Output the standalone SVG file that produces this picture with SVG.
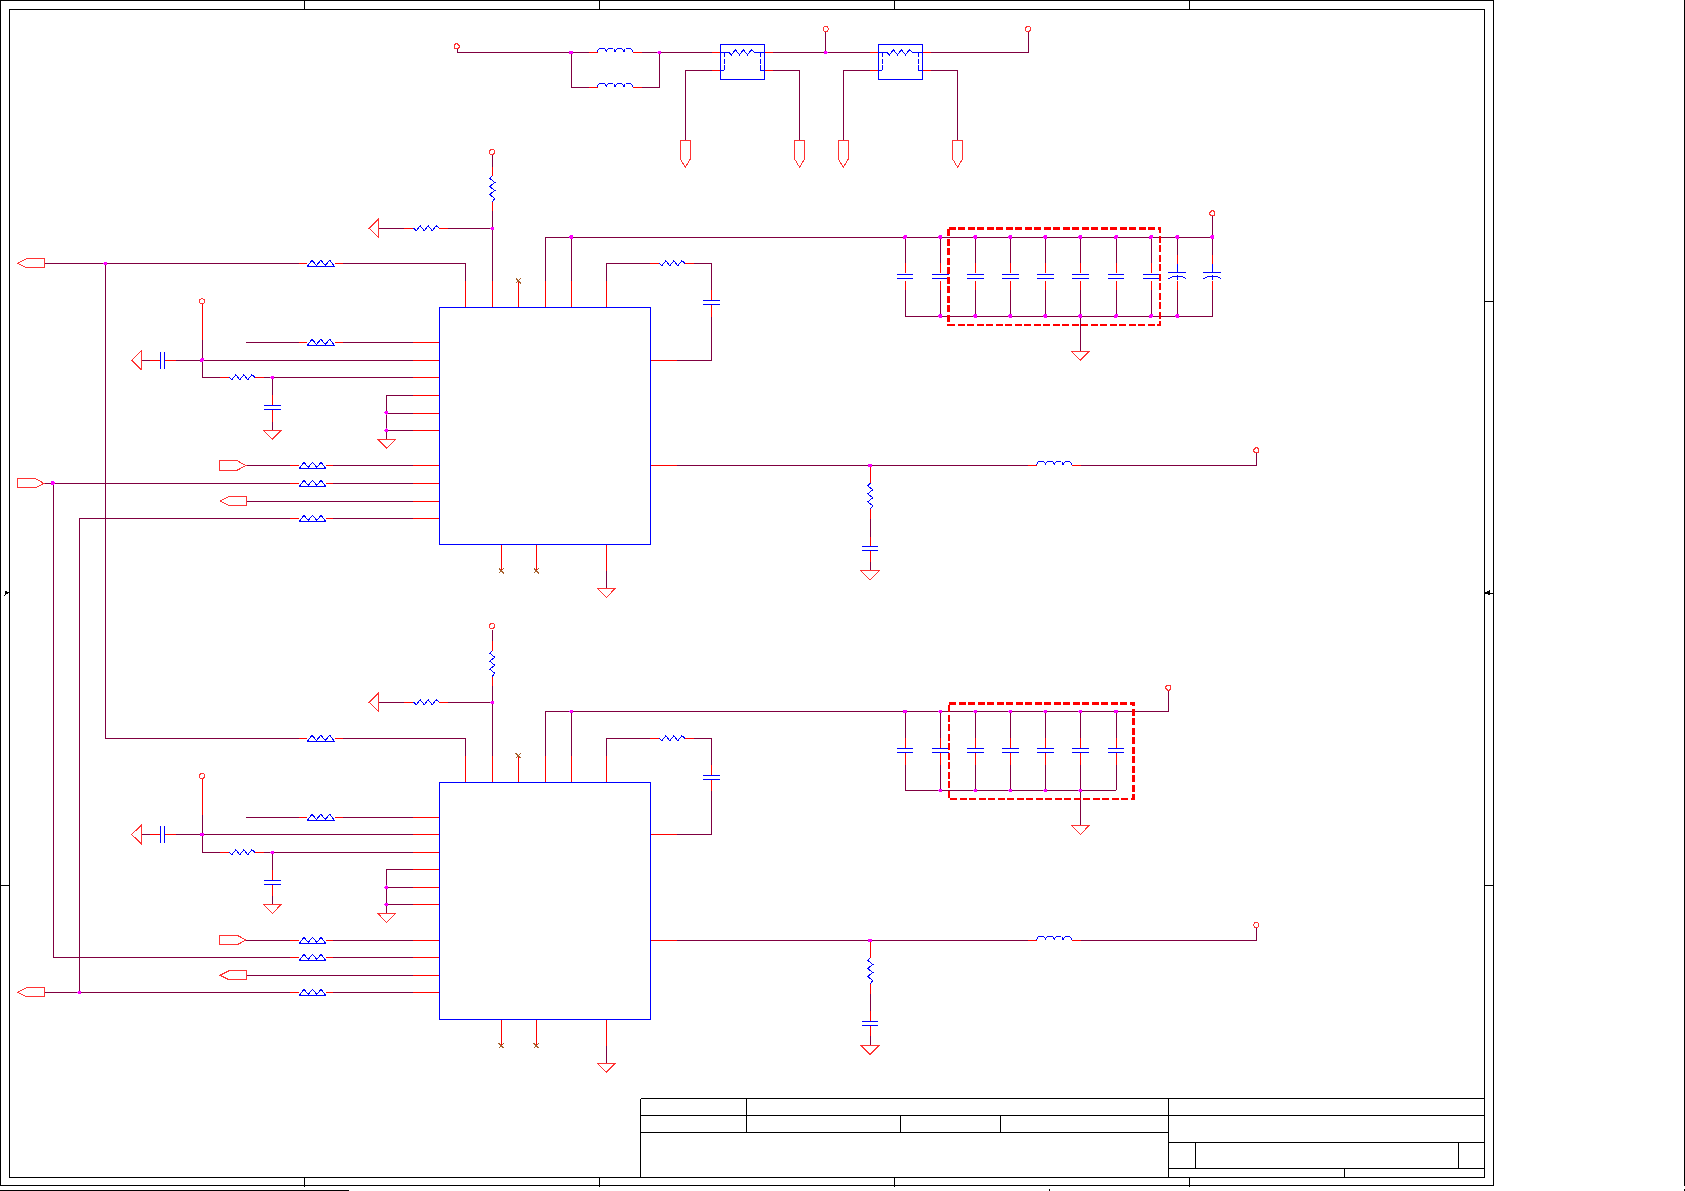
<svg xmlns="http://www.w3.org/2000/svg" width="1685" height="1191" viewBox="0 0 1685 1191" shape-rendering="crispEdges">
<style>
path,rect,circle,polygon{fill:none}
.k{stroke:#000;stroke-width:1}
.w{stroke:#800040;stroke-width:1}
.r{stroke:#f00;stroke-width:1}
.b{stroke:#00f;stroke-width:1}
.o{stroke:#f33;stroke-width:1}
.x{stroke:#a5602c;stroke-width:1}
.d{stroke:#f00;stroke-width:2.6;stroke-dasharray:7 2.5}
.j{fill:#f0f;stroke:none}
.t{fill:#000;stroke:none}
</style>
<defs>
<path id="res" class="b" d="M0,0 L2.5,2.5 L6.5,-2.5 L10.5,2.5 L14.5,-2.5 L18.5,2.5 L22.5,-2.5 L25.7,0"/>
<path id="bead" class="b" d="M0,3.3 L4.5,-3 L9.2,2 L13.6,-3 L18,2 L22.5,-3 L27.4,3.3 Z"/>
<path id="bead2" class="b" d="M0,3 L4.3,-3 L8.8,2 L13,-3 L17.2,2 L21.7,-3 L26,3 Z"/>
<path id="ind" class="b" d="M0,0 a4.4,4.2 0 0 1 8.8,0 a4.4,4.2 0 0 1 8.8,0 a4.4,4.2 0 0 1 8.8,0 a4.4,4.2 0 0 1 8.8,0"/>
<path id="cap" class="b" d="M-8.3,-2.2 H8.3 M-8.3,2.2 H8.3"/>
<path id="capx" class="b" d="M-2.2,-8.5 V8.5 M2.2,-8.5 V8.5"/>
<path id="pcap" class="b" d="M0,-12.3 V-4 M-9,-4 H9 M-9,2.4 Q0,-3.2 9,2.4 M0,-0.5 V4"/>
<path id="gnd" class="o" d="M-9,0 H9 L0,9.3 Z"/>
<path id="tri" class="o" d="M0,-9 V9 L-9.3,0 Z"/>
<circle id="pwr" class="o" r="2.5"/>
<path id="off" class="o" d="M-4.8,0 H4.8 V19 L0,27 L-4.8,19 Z"/>
<path id="pl" class="o" d="M0,0 L9,-4.5 H26.6 V4.5 H9 Z"/>
<path id="pr" class="o" d="M0,-4.7 H18 L26.6,0 L18,4.7 H0 Z"/>
<path id="nc" class="x" d="M-2.5,-2.5 L2.5,2.5 M2.5,-2.5 L-2.5,2.5"/>
<circle id="jn" class="j" r="2"/>
<g id="fuse"><rect class="b" width="44" height="35"/><path class="b" d="M0,8 H8.6 M35,8 H44 M4,26 H0 M40,26 H44"/><path class="b" stroke-dasharray="5 1.5" d="M3.8,8 V26 M40,8 V26"/><use href="#res" x="8.6" y="8"/></g>
</defs>
<g id="frame">
<rect class="k" x="0.5" y="0.5" width="1493" height="1185"/>
<rect class="k" x="9.5" y="9.5" width="1475" height="1168"/>
<path class="k" d="M304.5,0 V9.5 M599.6,0 V9.5 M894.3,0 V9.5 M1189.6,0 V9.5 M304.5,1177 V1187 M599.6,1177 V1187 M894.3,1177 V1187 M1189.6,1177 V1187 M1484.5,301 H1493.5 M1484.5,593 H1493.5 M1484.5,885 H1493.5 M0,885.5 H9.5 M0,1190.5 H349 M1684.5,0 V1185.5 M1684.5,1188.5 V1190.5 M1049.5,1188.5 V1191"/>
<path class="t" d="M4.5,590 L9.5,592.7 L4.5,595.5 Z M1490,590 L1485,592.7 L1490,595.5 Z"/>
</g>
<g id="title-block">
<path class="k" d="M640.5,1098.5 H1484.5 M640.5,1098.5 V1177 M640.5,1115.5 H1484.5 M640.5,1132.5 H1168.5 M746.5,1098 V1132.5 M900.5,1115.5 V1132.5 M1000.5,1115.5 V1132.5 M1168.5,1098.5 V1177 M1168.5,1142.5 H1484.5 M1168.5,1168.5 H1484.5 M1195.5,1142.5 V1168.5 M1458.5,1142.5 V1168.5 M1344.5,1168.5 V1177"/>
</g>
<g id="connectors">
<path class="w" d="M457.5,48.5 V52.3 H589 M642.4,52.3 H712 M571,52.3 V87.3 H589 M642.4,87.3 H659.2 V52.3 M773,52.3 H870 M825.7,32 V52.3 M931,52.3 H1028.6 V32 M712,70.3 H685.3 V140.3 M773,70.3 H799.6 V140.3 M870,70.3 H843.3 V140.3 M931,70.3 H957.6 V140.3"/>
<path class="r" d="M589,52.3 H597.5 M632.7,52.3 H642.4 M589,87.3 H597.5 M632.7,87.3 H642.4 M712,52.3 H720.4 M764.5,52.3 H773 M870,52.3 H878.4 M922.4,52.3 H931 M712,70.3 H720.4 M764.5,70.3 H773 M870,70.3 H878.4 M922.4,70.3 H931"/>
<path class="w" d="M342.7,263.3 H465.3 V281 M492.3,155 V166.7 M492.3,211 V281 M378.3,228.3 H404.3 M448,228.3 H492.3 M545.3,281 V237.3 H905 M571.3,237.3 V281 M606.3,281 V263.3 H650 M694,263.3 H711.3 V290 M711.3,316.7 V360.3 H677 M677,465.3 H1028.3 M1081,465.3 H1256.3 V453 M870.3,519 V536.7 M870.3,561.7 V570.7 M606.3,571 V588.3 M246,342.3 H299 M342.7,342.3 H412.7 M202.3,340 V377.3 H220 M264.3,377.3 H412.7 M175.7,360.3 H412.7 M150,360.3 H141 M272.3,377.3 V395 M272.3,421.7 V430 M386.3,439 V395.3 H412.7 M386.3,413 H412.7 M386.3,430.3 H412.7 M246,465.3 H290 M333.3,465.3 H412.7 M333.3,483.3 H412.7 M246.7,501.3 H412.7 M333.3,518.3 H412.7"/>
<path class="r" d="M299,263.3 H306.7 M334.7,263.3 H342.7 M465.3,281 V307.3 M492.3,166.7 V176 M492.3,201.7 V211 M492.3,281 V307.3 M404.3,228.3 H413.7 M439,228.3 H448 M518.3,281 V307.3 M545.3,281 V307.3 M571.3,281 V307.3 M606.3,281 V307.3 M650,263.3 H659.3 M685,263.3 H694 M711.3,290 V300 M711.3,304.7 V316.7 M650.3,360.3 H677 M650.3,465.3 H677 M1028.3,465.3 H1036.7 M1072,465.3 H1081 M870.3,465.3 V483.3 M870.3,509 V519 M870.3,536.7 V546.7 M870.3,550.7 V561.7 M501.3,544.3 V571 M536.3,544.3 V571 M606.3,544.3 V571 M299,342.3 H306.7 M334.7,342.3 H342.7 M412.7,342.3 H439.3 M202.3,304 V340 M220,377.3 H229.3 M255,377.3 H264.3 M412.7,377.3 H439.3 M412.7,360.3 H439.3 M175.7,360.3 H164.3 M160,360.3 H150 M272.3,395 V405.3 M272.3,410.3 V421.7 M412.7,395.3 H439.3 M412.7,413 H439.3 M412.7,430.3 H439.3 M290,465.3 H299.3 M325.7,465.3 H333.3 M412.7,465.3 H439.3 M290,483.3 H299.3 M325.7,483.3 H333.3 M412.7,483.3 H439.3 M412.7,501.3 H439.3 M290,518.3 H299.3 M325.7,518.3 H333.3 M412.7,518.3 H439.3"/>
<path class="w" d="M342.7,738.3 H465.3 V756 M492.3,630 V641 M492.3,685.5 V756 M378.3,702.3 H404.3 M448,702.3 H492.3 M545.3,756 V711.3 H905 M571.3,711.3 V756 M606.3,756 V738.3 H650 M694,738.3 H711.3 V765 M711.3,791 V834.3 H677 M677,940.3 H1028.3 M1081,940.3 H1256.3 V928 M870.3,994 V1011 M870.3,1036 V1045.3 M606.3,1045.7 V1063 M246,817.3 H299 M342.7,817.3 H412.7 M202.3,814.7 V852.3 H220 M264.3,852.3 H412.7 M175.7,834.3 H412.7 M150,834.3 H141 M272.3,852.3 V869.7 M272.3,896 V904.5 M386.3,913.5 V869.3 H412.7 M386.3,887.3 H412.7 M386.3,904.3 H412.7 M246,940.3 H290 M333.3,940.3 H412.7 M333.3,957.3 H412.7 M246.7,975.3 H412.7 M333.3,992.3 H412.7"/>
<path class="r" d="M299,738.3 H306.7 M334.7,738.3 H342.7 M465.3,756 V782.3 M492.3,641 V650.7 M492.3,676.4 V685.5 M492.3,756 V782.3 M404.3,702.3 H413.7 M439,702.3 H448 M518.3,756 V782.3 M545.3,756 V782.3 M571.3,756 V782.3 M606.3,756 V782.3 M650,738.3 H659.3 M685,738.3 H694 M711.3,765 V775 M711.3,779.4 V791 M650.3,834.3 H677 M650.3,940.3 H677 M1028.3,940.3 H1036.7 M1072,940.3 H1081 M870.3,940.3 V958 M870.3,983.7 V994 M870.3,1011 V1021 M870.3,1025.5 V1036 M501.3,1019.3 V1045.7 M536.3,1019.3 V1045.7 M606.3,1019.3 V1045.7 M299,817.3 H306.7 M334.7,817.3 H342.7 M412.7,817.3 H439.3 M202.3,778.5 V814.7 M220,852.3 H229.3 M255,852.3 H264.3 M412.7,852.3 H439.3 M412.7,834.3 H439.3 M175.7,834.3 H164.3 M160,834.3 H150 M272.3,869.7 V880 M272.3,884.7 V896 M412.7,869.3 H439.3 M412.7,887.3 H439.3 M412.7,904.3 H439.3 M290,940.3 H299.3 M325.7,940.3 H333.3 M412.7,940.3 H439.3 M290,957.3 H299.3 M325.7,957.3 H333.3 M412.7,957.3 H439.3 M412.7,975.3 H439.3 M290,992.3 H299.3 M325.7,992.3 H333.3 M412.7,992.3 H439.3"/>
<path class="w" d="M44.3,263.3 H299 M105.3,263.3 V738.3 H299 M44,483.3 H290 M53.3,483.3 V957.3 H290 M79.3,518.3 H290 M79.3,518.3 V992.3 M44.3,992.3 H290"/>
<path class="w" d="M905,237.3 H1212.3 V216 M905,316.3 H1212.3 V290 M905,237.3 V263.3 M905,290 V316.3 M940.3,237.3 V263.3 M940.3,290 V316.3 M975.3,237.3 V263.3 M975.3,290 V316.3 M1010.3,237.3 V263.3 M1010.3,290 V316.3 M1045.3,237.3 V263.3 M1045.3,290 V316.3 M1080.3,237.3 V263.3 M1080.3,290 V351 M1116,237.3 V263.3 M1116,290 V316.3 M1151,237.3 V263.3 M1151,290 V316.3 M1177.3,237.3 V255 M1177.3,290 V316.3 M1212.3,237.3 V255"/>
<path class="r" d="M905,263.3 V272.5 M905,281 V290 M940.3,263.3 V272.5 M940.3,281 V290 M975.3,263.3 V272.5 M975.3,281 V290 M1010.3,263.3 V272.5 M1010.3,281 V290 M1045.3,263.3 V272.5 M1045.3,281 V290 M1080.3,263.3 V272.5 M1080.3,281 V290 M1116,263.3 V272.5 M1116,281 V290 M1151,263.3 V272.5 M1151,281 V290 M1177.3,255 V264 M1177.3,281 V290 M1212.3,255 V264 M1212.3,281 V290"/>
<path class="w" d="M905,711.3 H1168.3 V691 M905,790.3 H1116 M905,711.3 V738 M905,764.5 V790.3 M940.3,711.3 V738 M940.3,764.5 V790.3 M975.3,711.3 V738 M975.3,764.5 V790.3 M1010.3,711.3 V738 M1010.3,764.5 V790.3 M1045.3,711.3 V738 M1045.3,764.5 V790.3 M1080.3,711.3 V738 M1080.3,764.5 V825.3 M1116,711.3 V738 M1116,764.5 V790.3"/>
<path class="r" d="M905,738 V748 M905,753 V764.5 M940.3,738 V748 M940.3,753 V764.5 M975.3,738 V748 M975.3,753 V764.5 M1010.3,738 V748 M1010.3,753 V764.5 M1045.3,738 V748 M1045.3,753 V764.5 M1080.3,738 V748 M1080.3,753 V764.5 M1116,738 V748 M1116,753 V764.5"/>
<g id="junctions">
<use href="#jn" x="571" y="52.5"/><use href="#jn" x="659.2" y="52.5"/><use href="#jn" x="825.7" y="52.5"/>
<use href="#jn" x="492.3" y="228.5"/><use href="#jn" x="571.3" y="237"/><use href="#jn" x="105.3" y="263.5"/><use href="#jn" x="202" y="360"/><use href="#jn" x="272.3" y="377.5"/><use href="#jn" x="386.3" y="412.7"/><use href="#jn" x="386.3" y="430.3"/><use href="#jn" x="52.7" y="483"/><use href="#jn" x="870" y="465.5"/>
<use href="#jn" x="905" y="237"/><use href="#jn" x="940.3" y="237"/><use href="#jn" x="975.3" y="237"/><use href="#jn" x="1010.3" y="237"/><use href="#jn" x="1045.3" y="237"/><use href="#jn" x="1080.3" y="237"/><use href="#jn" x="1116" y="237"/><use href="#jn" x="1151" y="237"/><use href="#jn" x="1177.3" y="237"/><use href="#jn" x="1212.3" y="237"/>
<use href="#jn" x="940.3" y="316"/><use href="#jn" x="975.3" y="316"/><use href="#jn" x="1010.3" y="316"/><use href="#jn" x="1045.3" y="316"/><use href="#jn" x="1080.3" y="316"/><use href="#jn" x="1116" y="316"/><use href="#jn" x="1151" y="316"/><use href="#jn" x="1177.3" y="316"/>
<use href="#jn" x="492.3" y="702.5"/><use href="#jn" x="571.3" y="711.5"/><use href="#jn" x="202" y="834.5"/><use href="#jn" x="272.3" y="852.5"/><use href="#jn" x="386.3" y="887.3"/><use href="#jn" x="386.3" y="904.5"/><use href="#jn" x="79.3" y="992.5"/><use href="#jn" x="870" y="940.5"/>
<use href="#jn" x="905" y="711.5"/><use href="#jn" x="940.3" y="711.5"/><use href="#jn" x="975.3" y="711.5"/><use href="#jn" x="1010.3" y="711.5"/><use href="#jn" x="1045.3" y="711.5"/><use href="#jn" x="1080.3" y="711.5"/><use href="#jn" x="1116" y="711.5"/>
<use href="#jn" x="940.3" y="790.5"/><use href="#jn" x="975.3" y="790.5"/><use href="#jn" x="1010.3" y="790.5"/><use href="#jn" x="1045.3" y="790.5"/><use href="#jn" x="1080.3" y="790.5"/>
</g>
</g>
<g id="top-power">
<g id="P1"><use href="#pwr" x="456.7" y="46.3"/></g>
<g id="L1"><use href="#ind" x="597.5" y="52.3"/></g>
<g id="L2"><use href="#ind" x="597.5" y="87.3"/></g>
<g id="F1"><use href="#fuse" x="720.4" y="44.3"/></g>
<g id="F2"><use href="#fuse" x="878.4" y="44.3"/></g>
<g id="P2"><use href="#pwr" x="825.7" y="29"/></g>
<g id="P3"><use href="#pwr" x="1028" y="29"/></g>
<g id="O1"><use href="#off" x="685.3" y="140.3"/></g>
<g id="O2"><use href="#off" x="799.6" y="140.3"/></g>
<g id="O3"><use href="#off" x="843.3" y="140.3"/></g>
<g id="O4"><use href="#off" x="957.6" y="140.3"/></g>
</g>
<g id="unit-a">
<g id="U1"><rect class="b" x="439.3" y="307.3" width="211" height="237"/></g>
<g id="A-P1"><use href="#pwr" x="492" y="152"/></g>
<g id="A-R1"><use href="#res" transform="translate(492.3,176) rotate(90)"/></g>
<g id="A-R2"><use href="#res" x="413.7" y="228.3"/></g>
<g id="A-T1"><use href="#tri" x="378.3" y="228.3"/></g>
<g id="A-C1"><use href="#pl" x="17.7" y="263.3"/></g>
<g id="A-B1"><use href="#bead" x="307.3" y="263.3"/></g>
<g id="A-NC1"><use href="#nc" x="518.3" y="281"/></g>
<g id="A-R3"><use href="#res" x="659.3" y="263.3"/></g>
<g id="A-C2"><use href="#cap" x="711.3" y="302.4"/></g>
<g id="A-L1"><use href="#ind" x="1036.7" y="465.3"/></g>
<g id="A-P2"><use href="#pwr" x="1256.3" y="450.3"/></g>
<g id="A-R4"><use href="#res" transform="translate(870.3,483.3) rotate(90)"/></g>
<g id="A-C3"><use href="#cap" x="870" y="548.7"/></g>
<g id="A-G1"><use href="#gnd" x="870" y="570.7"/></g>
<g id="A-NC2"><use href="#nc" x="501.3" y="571"/></g>
<g id="A-NC3"><use href="#nc" x="536.3" y="571"/></g>
<g id="A-G2"><use href="#gnd" x="606.3" y="588.3"/></g>
<g id="A-B2"><use href="#bead" x="307.3" y="342.3"/></g>
<g id="A-P3"><use href="#pwr" x="202" y="301.3"/></g>
<g id="A-C4"><use href="#capx" x="162.3" y="360.3"/></g>
<g id="A-T2"><use href="#tri" x="141" y="360.3"/></g>
<g id="A-R5"><use href="#res" x="229.3" y="377.3"/></g>
<g id="A-C5"><use href="#cap" x="272.3" y="407.8"/></g>
<g id="A-G3"><use href="#gnd" x="272.3" y="430"/></g>
<g id="A-G4"><use href="#gnd" x="386.7" y="439"/></g>
<g id="A-C6"><use href="#pr" x="219.3" y="465.5"/></g>
<g id="A-B3"><use href="#bead2" x="299.5" y="465.3"/></g>
<g id="A-C7"><use href="#pr" x="17.3" y="483.3"/></g>
<g id="A-B4"><use href="#bead2" x="299.5" y="483.3"/></g>
<g id="A-C8"><use href="#pl" x="220" y="501"/></g>
<g id="A-B5"><use href="#bead2" x="299.5" y="518.3"/></g>
<g id="A-CAPS"><use href="#cap" x="905" y="276.7"/><use href="#cap" x="940.3" y="276.7"/><use href="#cap" x="975.3" y="276.7"/><use href="#cap" x="1010.3" y="276.7"/><use href="#cap" x="1045.3" y="276.7"/><use href="#cap" x="1080.3" y="276.7"/><use href="#cap" x="1116" y="276.7"/><use href="#cap" x="1151" y="276.7"/><use href="#pcap" x="1177.3" y="276.3"/><use href="#pcap" x="1212.3" y="276.3"/></g>
<g id="A-P4"><use href="#pwr" x="1212.3" y="213.3"/></g>
<g id="A-G5"><use href="#gnd" x="1080.3" y="351"/></g>
<path id="A-BOX" class="d" d="M948.7,228.3 H1160 V325 H948.7 Z"/>
</g>
<g id="unit-b">
<g id="U2"><rect class="b" x="439.3" y="782.3" width="211" height="237"/></g>
<g id="B-P1"><use href="#pwr" x="492" y="626"/></g>
<g id="B-R1"><use href="#res" transform="translate(492.3,650.7) rotate(90)"/></g>
<g id="B-R2"><use href="#res" x="413.7" y="702.3"/></g>
<g id="B-T1"><use href="#tri" x="378.3" y="702.3"/></g>
<g id="B-B1"><use href="#bead" x="307.3" y="738.3"/></g>
<g id="B-NC1"><use href="#nc" x="518.3" y="755.7"/></g>
<g id="B-R3"><use href="#res" x="659.3" y="738.3"/></g>
<g id="B-C2"><use href="#cap" x="711.3" y="777.2"/></g>
<g id="B-L1"><use href="#ind" x="1036.7" y="940.3"/></g>
<g id="B-P2"><use href="#pwr" x="1256.3" y="925"/></g>
<g id="B-R4"><use href="#res" transform="translate(870.3,958) rotate(90)"/></g>
<g id="B-C3"><use href="#cap" x="870" y="1023.4"/></g>
<g id="B-G1"><use href="#gnd" x="870" y="1045.4"/></g>
<g id="B-NC2"><use href="#nc" x="501.3" y="1045.7"/></g>
<g id="B-NC3"><use href="#nc" x="536.3" y="1045.7"/></g>
<g id="B-G2"><use href="#gnd" x="606.3" y="1063"/></g>
<g id="B-B2"><use href="#bead" x="307.3" y="817.3"/></g>
<g id="B-P3"><use href="#pwr" x="202" y="776"/></g>
<g id="B-C4"><use href="#capx" x="162.3" y="834.3"/></g>
<g id="B-T2"><use href="#tri" x="141" y="834.5"/></g>
<g id="B-R5"><use href="#res" x="229.3" y="852.3"/></g>
<g id="B-C5"><use href="#cap" x="272.3" y="882.4"/></g>
<g id="B-G3"><use href="#gnd" x="272.3" y="904.3"/></g>
<g id="B-G4"><use href="#gnd" x="386.7" y="913.3"/></g>
<g id="B-C6"><use href="#pr" x="219.3" y="940"/></g>
<g id="B-B3"><use href="#bead2" x="299.5" y="940.3"/></g>
<g id="B-B4"><use href="#bead2" x="299.5" y="957.3"/></g>
<g id="B-C8"><use href="#pl" x="220" y="975.3"/></g>
<g id="B-B5"><use href="#bead2" x="299.5" y="992.3"/></g>
<g id="B-C7"><use href="#pl" x="17.7" y="992.3"/></g>
<g id="B-CAPS"><use href="#cap" x="905" y="750.7"/><use href="#cap" x="940.3" y="750.7"/><use href="#cap" x="975.3" y="750.7"/><use href="#cap" x="1010.3" y="750.7"/><use href="#cap" x="1045.3" y="750.7"/><use href="#cap" x="1080.3" y="750.7"/><use href="#cap" x="1116" y="750.7"/></g>
<g id="B-P4"><use href="#pwr" x="1168.3" y="687.7"/></g>
<g id="B-G5"><use href="#gnd" x="1080.3" y="825.3"/></g>
<path id="B-BOX" class="d" d="M949,703.3 H1133.3 V799 H949 Z"/>
</g>
</svg>
